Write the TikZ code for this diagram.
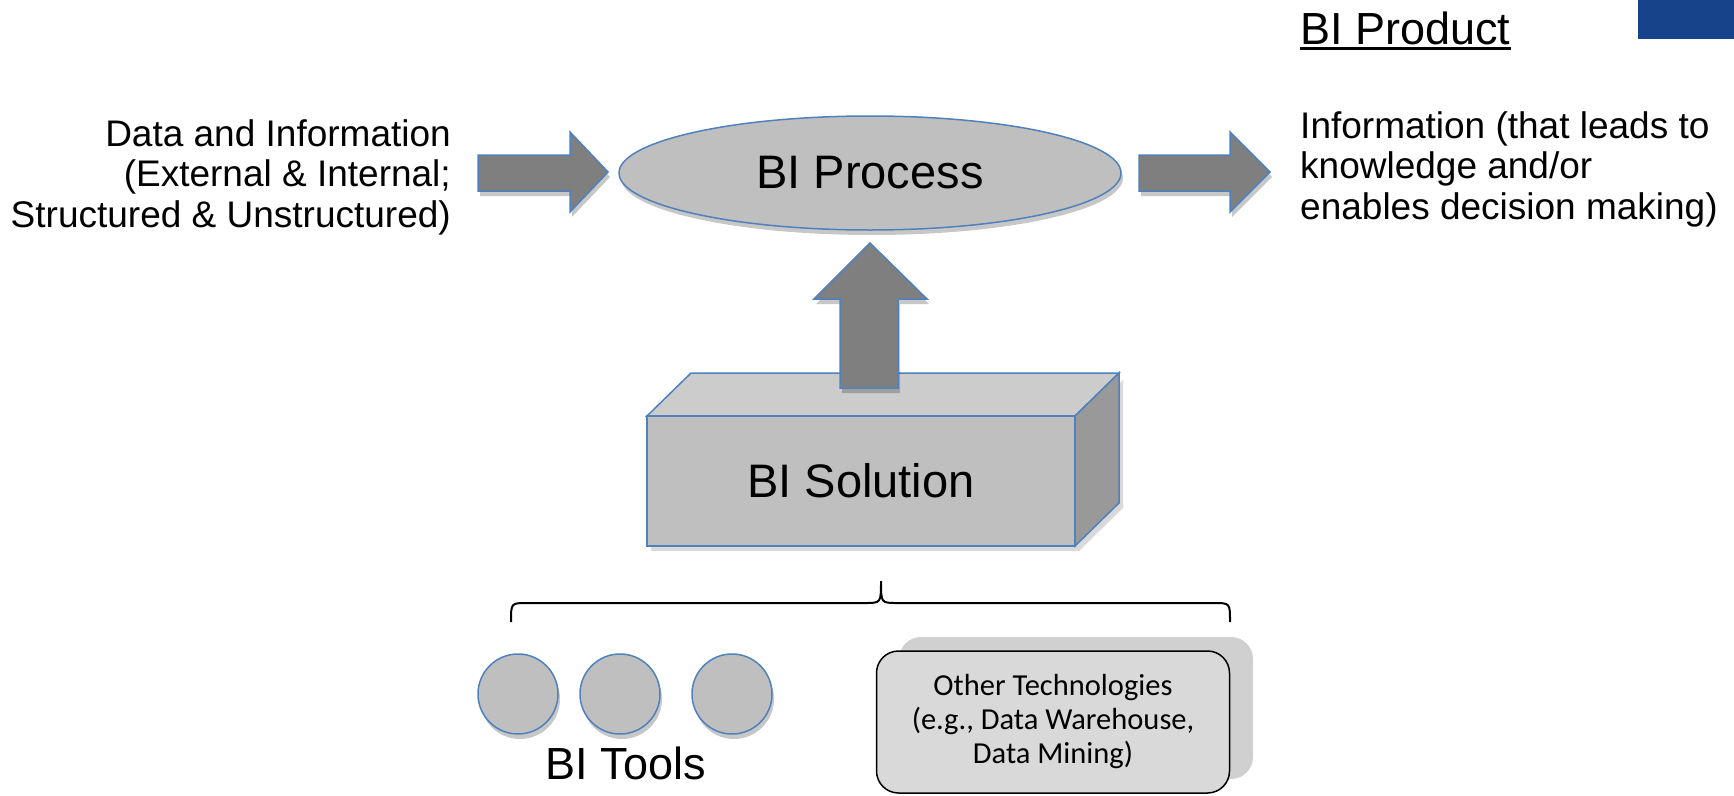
\documentclass[tikz,border=0pt]{standalone}
\usepackage{fontspec}
\setmainfont{Liberation Sans}
\newfontfamily\calib{Carlito}
\usetikzlibrary{shapes.geometric,shadows}
\definecolor{bdr}{RGB}{79,129,189}
\definecolor{topblue}{RGB}{23,67,138}
\definecolor{procfill}{RGB}{191,191,191}
\definecolor{arrfill}{RGB}{127,127,127}
\definecolor{topface}{RGB}{204,204,204}
\definecolor{sideface}{RGB}{153,153,153}
\definecolor{otfill}{RGB}{217,217,217}
\definecolor{otback}{RGB}{208,208,208}
\tikzset{
  sh/.style={drop shadow={shadow xshift=2pt,shadow yshift=-5pt,fill=black,opacity=0.22}},
  blockarrow/.style={draw=bdr,fill=arrfill,line width=1.5pt,line join=miter},
  bigtxt/.style={inner sep=0pt,font=\fontsize{37}{40.5}\selectfont},
  hugetxt/.style={inner sep=0pt,font=\fontsize{47}{52}\selectfont},
  tool/.style={circle,draw=bdr,fill=procfill,line width=1.5pt,minimum size=80pt,inner sep=0pt,sh},
}
\begin{document}
\begin{tikzpicture}[x=1pt,y=-1pt]
\useasboundingbox (0,0) rectangle (1734,795);
% top right blue bar
\fill[topblue] (1638,0) rectangle (1734,39);
% BI Product heading
\node[hugetxt,anchor=base west,font=\fontsize{45}{50}\selectfont] (bp) at (1300,44) {BI Product};
\draw[line width=3pt] ([yshift=-4pt]bp.base west) -- ([yshift=-4pt]bp.base east);
% side texts
\node[bigtxt,anchor=east,align=right] (din) at (451,177) {Data and Information\\(External \& Internal;\\Structured \& Unstructured)};
\node[bigtxt,anchor=west,align=left] (dout) at (1300,169) {Information (that leads to\\knowledge and/or\\enables decision making)};
% BI process
\node[ellipse,draw=bdr,fill=procfill,line width=1.5pt,minimum width=502pt,minimum height=114pt,inner sep=0pt,sh,hugetxt] (proc) at (870,173) {BI Process};
% block arrows
\draw[blockarrow,sh] (478,155) -- (570,155) -- (570,132) -- (608,172) -- (570,212) -- (570,191) -- (478,191) -- cycle;
\draw[blockarrow,sh] (1139,155) -- (1230,155) -- (1230,132) -- (1270,172) -- (1230,212) -- (1230,191) -- (1139,191) -- cycle;
% BI solution box
\fill[black,opacity=0.15] (651,422) rectangle (1079,551);
\fill[black,opacity=0.15] (1079,551) -- (1123,508) -- (1123,380) -- (1079,420) -- cycle;
\draw[draw=bdr,fill=topface,line width=1.5pt,line join=miter] (647,416) -- (691,373) -- (1119,373) -- (1075,416) -- cycle;
\draw[draw=bdr,fill=sideface,line width=1.5pt,line join=miter] (1075,416) -- (1119,373) -- (1119,503) -- (1075,546) -- cycle;
\node[draw=bdr,fill=procfill,line width=1.5pt,minimum width=428pt,minimum height=130pt,inner sep=0pt,hugetxt] (sol) at (861,481) {BI Solution};
% up arrow
\draw[blockarrow,sh] (840,388) -- (840,299) -- (814,299) -- (870,243) -- (927,299) -- (898,299) -- (898,388) -- cycle;
% brace
\draw[line width=2pt] (511,622) .. controls (511,603) .. (527,603) -- (865,603) .. controls (881,603) .. (881,581) .. controls (881,603) .. (897,603) -- (1214,603) .. controls (1230,603) .. (1230,622);
% BI tools
\node[tool] (t1) at (518,694) {};
\node[tool] (t2) at (620,694) {};
\node[tool] (t3) at (732,694) {};
\node[inner sep=0pt,font=\fontsize{45}{50}\selectfont] (tl) at (626,763) {BI Tools};
% other technologies
\fill[otback,rounded corners=22pt] (899,637) rectangle (1253,779);
\node[draw=black,line width=1.5pt,fill=otfill,rounded corners=22pt,minimum width=353pt,minimum height=142pt,inner sep=0pt,align=center,font=\calib\fontsize{30.5}{34}\selectfont] (ot) at (1053,722) {Other Technologies\\(e.g., Data Warehouse,\\Data Mining)};
\end{tikzpicture}
\end{document}
